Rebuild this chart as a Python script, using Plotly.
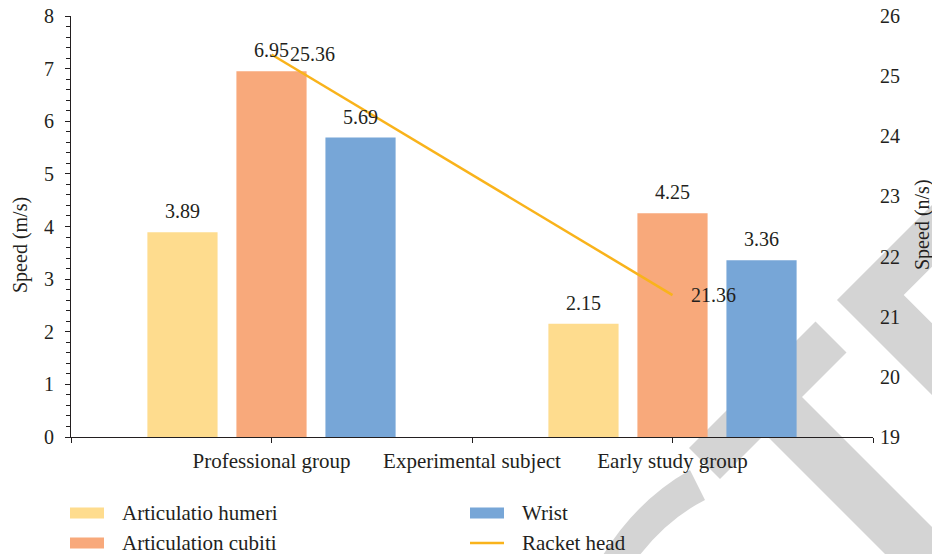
import plotly.graph_objects as go

# ---- data ----
groups = ["Professional group", "Experimental subject", "Early study group"]
humeri = [3.89, None, 2.15]          # Articulatio humeri (m/s)
cubiti = [6.95, None, 4.25]          # Articulation cubiti (m/s)
wrist = [5.69, None, 3.36]           # Wrist (m/s)
racket = [25.36, None, 21.36]        # Racket head (n/s), right axis

left_ticks = [0, 1, 2, 3, 4, 5, 6, 7, 8]
right_ticks = [19, 20, 21, 22, 23, 24, 25, 26]

# ---- styling ----
FONT = "Liberation Serif"
INK = "#231f20"
C_HUM = "#fedc8e"
C_CUB = "#f8a97b"
C_WRI = "#77a6d7"
C_RAC = "#f9b31b"
WM = "#d4d4d4"

W, H = 932, 554
L, R, T, B = 71, 873, 16, 437   # plot area in pixels


def px(x):
    return (x - L) / (R - L)


def py(y):
    return (B - y) / (B - T)


def path(points):
    return "M " + " L ".join(f"{px(x):.4f},{py(y):.4f}" for x, y in points) + " Z"


pos = list(range(len(groups)))
bw = 0.35
step = 0.444

fig = go.Figure()
series = [("Articulatio humeri", humeri, C_HUM, -step),
          ("Articulation cubiti", cubiti, C_CUB, 0.0),
          ("Wrist", wrist, C_WRI, step)]
for name, vals, col, sh in series:
    fig.add_trace(go.Bar(
        x=pos, y=vals, name=name, width=bw, offset=sh - bw / 2,
        marker=dict(color=col, line=dict(width=0)),
        showlegend=False, yaxis="y",
    ))

fig.add_trace(go.Scatter(
    x=pos, y=racket, name="Racket head", mode="lines", connectgaps=True,
    line=dict(color=C_RAC, width=2.5), yaxis="y2", showlegend=False,
))

ann = []
for name, vals, col, sh in series:
    for i, v in zip(pos, vals):
        if v is None:
            continue
        ann.append(dict(x=i + sh, y=v, xref="x", yref="y", text=f"{v:.2f}",
                        showarrow=False, yanchor="bottom", yshift=8,
                        font=dict(family=FONT, size=20, color=INK)))
for i, v in zip(pos, racket):
    if v is None:
        continue
    ann.append(dict(x=i, y=v, xref="x", yref="y2", text=f"{v:.2f}",
                    showarrow=False, xanchor="left", yanchor="middle", xshift=16,
                    font=dict(family=FONT, size=20, color=INK)))

# axis titles
ann.append(dict(x=px(20), y=py(245), xref="paper", yref="paper", text="Speed (m/s)",
                textangle=-90, showarrow=False, xanchor="center", yanchor="middle",
                font=dict(family=FONT, size=20, color=INK)))
ann.append(dict(x=px(922), y=py(225), xref="paper", yref="paper", text="Speed (n/s)",
                textangle=-90, showarrow=False, xanchor="center", yanchor="middle",
                font=dict(family=FONT, size=20, color=INK)))

# legend (two columns)
legend_items = [("Articulatio humeri", C_HUM, "bar", 70, 513),
                ("Wrist", C_WRI, "bar", 470, 513),
                ("Articulation cubiti", C_CUB, "bar", 70, 543),
                ("Racket head", C_RAC, "line", 470, 543)]
shapes = []
for label, col, kind, x0, yc in legend_items:
    if kind == "bar":
        shapes.append(dict(type="rect", xref="paper", yref="paper",
                           x0=px(x0), x1=px(x0 + 34), y0=py(yc + 5.5), y1=py(yc - 5.5),
                           fillcolor=col, line=dict(width=0), layer="above"))
    else:
        shapes.append(dict(type="line", xref="paper", yref="paper",
                           x0=px(x0), x1=px(x0 + 34), y0=py(yc), y1=py(yc),
                           line=dict(color=col, width=2.5), layer="above"))
    ann.append(dict(x=px(x0 + 50), y=py(yc), xref="paper", yref="paper", text=label,
                    showarrow=False, xanchor="left", yanchor="middle",
                    font=dict(family=FONT, size=21, color=INK)))

# grey stamp strokes in the background
stamp = [
    [(815.5, 321.5), (846.5, 352.5), (720, 479), (689, 448)],
    [(802, 397), (1100, 695), (1100, 769), (734, 403)],
    [(837, 300), (1237, -100), (1298.7, -100), (903.7, 295), (1200, 591.3), (1200, 663)],
]
for poly in stamp:
    shapes.append(dict(type="path", xref="paper", yref="paper", path=path(poly),
                       fillcolor=WM, line=dict(width=0), layer="below"))
arc = (f"M {px(600):.4f},{py(560):.4f} Q {px(635):.4f},{py(501):.4f} {px(690):.4f},{py(470):.4f} "
       f"L {px(705):.4f},{py(500):.4f} Q {px(665.5):.4f},{py(520):.4f} {px(636):.4f},{py(560):.4f} Z")
shapes.append(dict(type="path", xref="paper", yref="paper", path=arc,
                   fillcolor=WM, line=dict(width=0), layer="below"))

fig.update_layout(
    width=W, height=H,
    margin=dict(l=L, r=W - R, t=T, b=H - B, pad=0, autoexpand=False),
    paper_bgcolor="white", plot_bgcolor="rgba(0,0,0,0)",
    barmode="overlay", showlegend=False,
    font=dict(family=FONT, size=20, color=INK),
    xaxis=dict(range=[-1, 3], tickmode="array", tickvals=[-1] + pos + [3],
               ticktext=[""] + groups + [""], showline=True, linecolor=INK, linewidth=1,
               ticks="outside", ticklen=5, tickcolor=INK, showgrid=False, zeroline=False,
               automargin=False, tickfont=dict(family=FONT, size=21, color=INK)),
    yaxis=dict(range=[0, 8], tickmode="array", tickvals=left_ticks, showline=True,
               linecolor=INK, linewidth=1, ticks="outside", ticklen=5, tickcolor=INK,
               minor=dict(dtick=0.2, ticks="outside", ticklen=4, tickcolor=INK),
               showgrid=False, zeroline=False, ticklabelstandoff=7, automargin=False,
               tickfont=dict(family=FONT, size=20, color=INK)),
    yaxis2=dict(range=[19, 26], tickmode="array", tickvals=right_ticks, overlaying="y",
                side="right", showline=False, ticks="", showgrid=False, zeroline=False,
                ticklabelstandoff=6, automargin=False,
                tickfont=dict(family=FONT, size=20, color=INK)),
    annotations=ann, shapes=shapes,
)

fig.write_html("out.html")
